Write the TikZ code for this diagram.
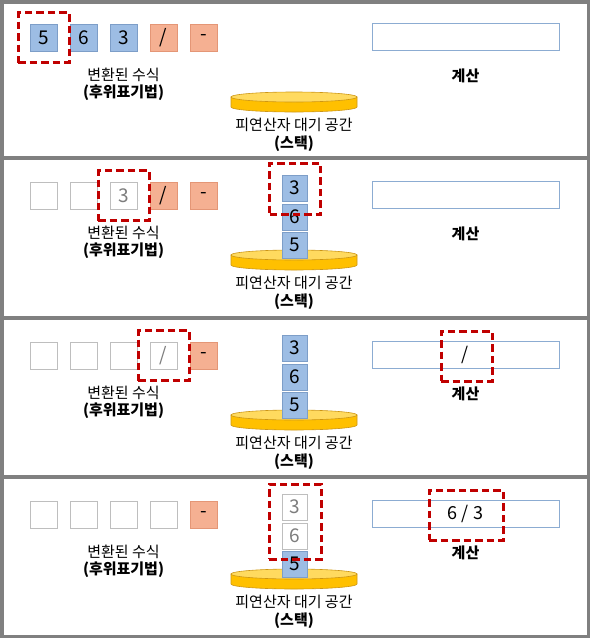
\documentclass[tikz,border=0pt]{standalone}
\usepackage{fontspec}
\usepackage{tikz}
\newfontfamily\kor{Noto Sans CJK KR}
\definecolor{bluefill}{RGB}{157,189,228}
\definecolor{blueline}{RGB}{125,158,200}
\definecolor{orfill}{RGB}{245,176,146}
\definecolor{orline}{RGB}{228,150,118}
\definecolor{grayline}{RGB}{190,190,190}
\definecolor{graytext}{RGB}{125,125,125}
\definecolor{calcline}{RGB}{140,172,210}
\definecolor{pickred}{RGB}{192,0,0}
\definecolor{goldtop}{RGB}{255,218,95}
\definecolor{goldside}{RGB}{255,192,0}
\definecolor{goldline}{RGB}{205,150,20}
\definecolor{framegray}{RGB}{128,128,128}
\tikzstyle{cell}+=[draw,inner sep=0pt,minimum width=27pt,minimum height=27pt,font={\kor\fontsize{19}{19}\selectfont}]
\tikzstyle{numbox}+=[cell,fill=bluefill,draw=blueline]
\tikzstyle{opbox}+=[cell,fill=orfill,draw=orline]
\tikzstyle{usedbox}+=[cell,fill=white,draw=grayline,text=graytext]
\tikzstyle{stackbox}+=[minimum width=25pt,minimum height=26pt]
\tikzstyle{calcbox}+=[cell,fill=white,draw=calcline,minimum width=187pt,font={\kor\fontsize{18}{18}\selectfont}]
\tikzstyle{pickbox}+=[draw=pickred,line width=3pt,dash pattern=on 7.5pt off 4pt,minimum width=51pt,minimum height=50pt,inner sep=0pt]
\tikzstyle{lbl}+=[align=center,font={\kor\fontsize{15}{17.5}\selectfont}]
\newcommand{\drawplate}{%
  \filldraw[fill=goldside,draw=goldline,line width=0.6pt] (231,97) -- (231,107)
    arc[start angle=180,end angle=360,x radius=63pt,y radius=5pt] -- (357,97) -- cycle;
  \filldraw[fill=goldtop,draw=goldline,line width=0.6pt] (294,97) ellipse [x radius=63pt,y radius=5pt];}
\newcommand{\stagelabels}[1]{%
  \node[lbl] (f#1) at (123.5,84.5) {변환된 수식\\\textbf{(후위표기법)}};
  \node[lbl] (w#1) at (294,135) {피연산자 대기 공간\\\textbf{(스택)}};
  \node[lbl] (g#1) at (465.5,76) {\textbf{계산}};}

\begin{document}
\begin{tikzpicture}[x=1pt,y=-1pt]
  \useasboundingbox (0,0) rectangle (590,638);
  \begin{scope}
    \path node[numbox] (e11) at (43.5,37.5) {5} node[numbox] (e12) at (83.5,37.5) {6}
      node[numbox] (e13) at (123.5,37.5) {3} node[opbox] (e14) at (163.5,37.5) {/}
      node[opbox] (e15) at (203.5,37.5) {-};
    \node[pickbox] (h1) at (e11) {};
    \drawplate
    \node[calcbox] (c1) at (465.5,37) {};
    \stagelabels{1}
  \end{scope}
  \begin{scope}[yshift=-158pt]
    \path node[usedbox] (e21) at (43.5,37.5) {} node[usedbox] (e22) at (83.5,37.5) {}
      node[usedbox] (e23) at (123.5,37.5) {3} node[opbox] (e24) at (163.5,37.5) {/}
      node[opbox] (e25) at (203.5,37.5) {-};
    \drawplate
    \path node[numbox,stackbox] (s21) at (294.5,87) {5} node[numbox,stackbox] (s22) at (294.5,59) {6}
      node[numbox,stackbox] (s23) at (294.5,30) {3};
    \node[pickbox] (h2) at (e23) {};
    \node[pickbox,minimum height=51pt] (k2) at (295,30.5) {};
    \node[calcbox] (c2) at (465.5,37) {};
    \stagelabels{2}
  \end{scope}
  \begin{scope}[yshift=-318pt]
    \path node[usedbox] (e31) at (43.5,37.5) {} node[usedbox] (e32) at (83.5,37.5) {}
      node[usedbox] (e33) at (123.5,37.5) {} node[usedbox] (e34) at (163.5,37.5) {/}
      node[opbox] (e35) at (203.5,37.5) {-};
    \drawplate
    \path node[numbox,stackbox] (s31) at (294.5,87) {5} node[numbox,stackbox] (s32) at (294.5,59) {6}
      node[numbox,stackbox] (s33) at (294.5,30) {3};
    \node[calcbox] (c3) at (465.5,37) {/};
    \node[pickbox] (h3) at (e34) {};
    \node[pickbox] (m3) at (466.5,38) {};
    \stagelabels{3}
  \end{scope}
  \begin{scope}[yshift=-477pt]
    \path node[usedbox] (e41) at (43.5,37.5) {} node[usedbox] (e42) at (83.5,37.5) {}
      node[usedbox] (e43) at (123.5,37.5) {} node[usedbox] (e44) at (163.5,37.5) {}
      node[opbox] (e45) at (203.5,37.5) {-};
    \drawplate
    \path node[numbox,stackbox] (s41) at (294.5,87) {5} node[usedbox,stackbox] (s42) at (294.5,59) {6}
      node[usedbox,stackbox] (s43) at (294.5,30) {3};
    \node[calcbox] (c4) at (465.5,37) {6 / 3};
    \node[pickbox,minimum width=52pt,minimum height=75pt] (k4) at (295,44.5) {};
    \node[pickbox,minimum width=74pt] (m4) at (466,38) {};
    \stagelabels{4}
  \end{scope}
  \draw[framegray,line width=3.5pt] (1.75,1.75) rectangle (588.25,636.25);
  \draw[framegray,line width=4.5pt] (0,158) -- (590,158) (0,318) -- (590,318) (0,477) -- (590,477);
\end{tikzpicture}
\end{document}
